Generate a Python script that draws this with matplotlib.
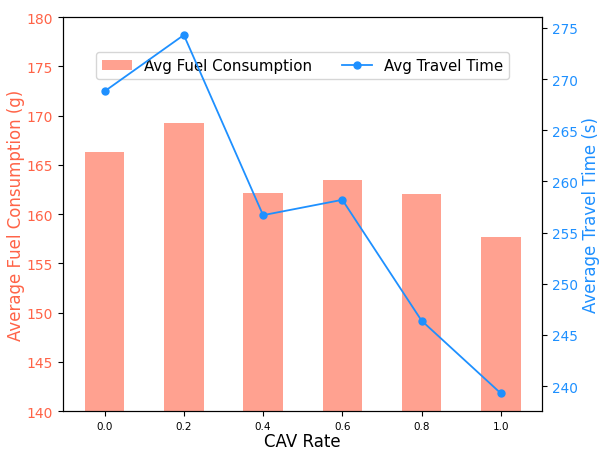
import matplotlib
matplotlib.use('Agg')
import matplotlib.pyplot as plt

# --- Daten ---
cav_rates = [0.0, 0.2, 0.4, 0.6, 0.8, 1.0]
fuel_consumption = [166.3, 169.2, 162.1, 163.5, 162.0, 157.7]
travel_time = [268.8, 274.3, 256.7, 258.2, 246.4, 239.3]

FUEL_COLOR = 'tomato'
TIME_COLOR = 'dodgerblue'

fig, ax1 = plt.subplots(figsize=(6, 4.52), dpi=100)
fig.subplots_adjust(left=0.105, right=0.904, top=0.960, bottom=0.088)

bars = ax1.bar(cav_rates, fuel_consumption, width=0.1, color=FUEL_COLOR, alpha=0.6,
               label='Avg Fuel Consumption')
ax1.set_ylim(140, 180)
ax1.set_xlabel('CAV Rate', fontsize=12, labelpad=1)
ax1.set_ylabel('Average Fuel Consumption (g)', color=FUEL_COLOR, fontsize=12, labelpad=1)
ax1.tick_params(axis='y', labelcolor=FUEL_COLOR, labelsize=10)
ax1.tick_params(axis='x', labelsize=7.5)
ax1.set_xticks(cav_rates)

ax2 = ax1.twinx()
line, = ax2.plot(cav_rates, travel_time, marker='o', color=TIME_COLOR, markersize=5,
                 linewidth=1.3, label='Avg Travel Time')
ax2.set_ylabel('Average Travel Time (s)', color=TIME_COLOR, fontsize=12, labelpad=2.5)
ax2.tick_params(axis='y', labelcolor=TIME_COLOR, labelsize=9.8)

ax1.legend([bars, line], ['Avg Fuel Consumption', 'Avg Travel Time'],
           loc='upper center', bbox_to_anchor=(0.5, 0.93), ncol=2, fontsize=10.8)

fig.savefig('out.png', dpi=100)
